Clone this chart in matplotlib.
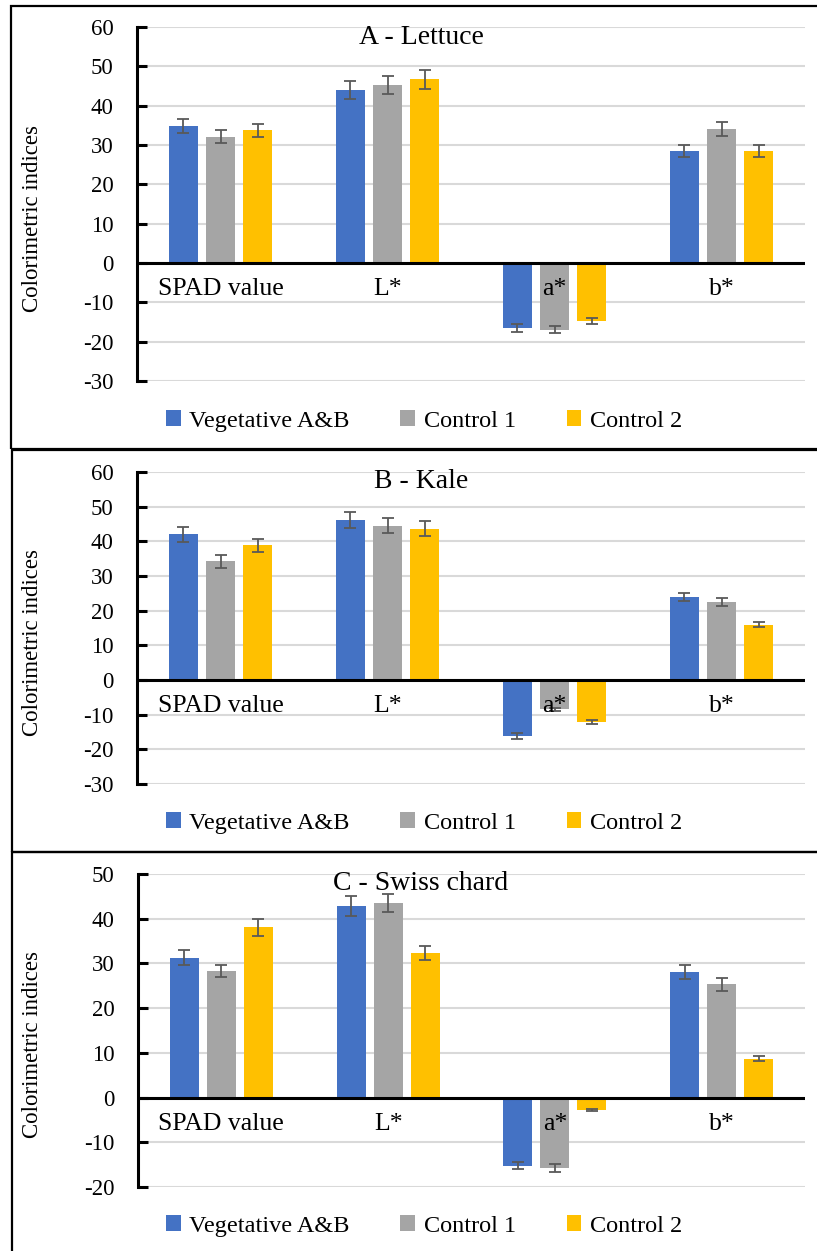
import numpy as np
import matplotlib.pyplot as plt
from matplotlib.patches import Rectangle

plt.rcParams['font.family'] = 'Liberation Serif'
plt.rcParams['axes.unicode_minus'] = False

# Categories and series shared by all three crops
categories = ['SPAD value', 'L*', 'a*', 'b*']
series = ['Vegetative A&B', 'Control 1', 'Control 2']
colors = ['#4472C4', '#A5A5A5', '#FFC000']

# A - Lettuce
lettuce_vals = [[34.8, 44.0, -16.6, 28.5],
                [32.1, 45.3, -17.0, 34.1],
                [33.7, 46.7, -14.7, 28.5]]
lettuce_err = [[1.8, 2.2, 1.0, 1.5],
               [1.6, 2.3, 0.9, 1.8],
               [1.7, 2.4, 0.7, 1.5]]

# B - Kale
kale_vals = [[42.0, 46.1, -16.2, 23.9],
             [34.2, 44.5, -8.5, 22.4],
             [38.8, 43.6, -12.1, 16.0]]
kale_err = [[2.2, 2.3, 0.9, 1.2],
            [1.8, 2.2, 0.3, 1.15],
            [1.9, 2.2, 0.7, 0.8]]

# C - Swiss chard
chard_vals = [[31.3, 42.9, -15.2, 28.1],
              [28.3, 43.5, -15.8, 25.3],
              [38.1, 32.3, -2.8, 8.7]]
chard_err = [[1.6, 2.2, 0.7, 1.5],
             [1.4, 2.1, 0.85, 1.4],
             [1.9, 1.6, 0.15, 0.6]]

W, H = 817, 1251
fig = plt.figure(figsize=(W / 100, H / 100), dpi=100)


def px_axes(x0, y0, x1, y1):
    # axes placed in pixel coordinates (top-left origin)
    return fig.add_axes([x0 / W, 1 - y1 / H, (x1 - x0) / W, (y1 - y0) / H])


panels = [
    dict(title='A - Lettuce', vals=lettuce_vals, err=lettuce_err,
         box=(137, 27, 805, 381), ylim=(-30, 60), frame=(11, 6, 449),
         title_y=37, legend_y=421),
    dict(title='B - Kale', vals=kale_vals, err=kale_err,
         box=(137, 472, 805, 784), ylim=(-30, 60), frame=(12, 450, 852),
         title_y=482, legend_y=823),
    dict(title='C - Swiss chard', vals=chard_vals, err=chard_err,
         box=(138, 874, 805, 1187), ylim=(-20, 50), frame=(12, 852, 1260),
         title_y=883, legend_y=1226),
]

x = np.arange(len(categories))
width = 0.175
step = 0.222

for p in panels:
    # panel frame
    fx, fy0, fy1 = p['frame']
    fig.patches.append(Rectangle((fx / W, 1 - fy1 / H), (W + 5 - fx) / W,
                                 (fy1 - fy0) / H, transform=fig.transFigure,
                                 fill=False, edgecolor='black', lw=1.6,
                                 zorder=0))

    ax = px_axes(*p['box'])
    handles = []
    for i, name in enumerate(series):
        pos = x + (i - 1) * step
        b = ax.bar(pos, p['vals'][i], width, color=colors[i], label=name,
                   zorder=2)
        ax.errorbar(pos, p['vals'][i], yerr=p['err'][i], fmt='none',
                    ecolor='#595959', elinewidth=1.3, capsize=4,
                    capthick=1.3, zorder=3)
        handles.append(b)

    lo, hi = p['ylim']
    ax.set_ylim(lo, hi)
    ax.set_xlim(-0.5, len(categories) - 0.5)
    ax.set_yticks(np.arange(lo, hi + 1, 10))
    ax.yaxis.grid(True, color='#D9D9D9', lw=1.5, zorder=0)
    ax.set_axisbelow(True)
    ax.set_xticks([])
    for s in ['top', 'right', 'bottom']:
        ax.spines[s].set_visible(False)
    ax.spines['left'].set_linewidth(2.2)
    ax.axhline(0, color='black', lw=2.2, zorder=4)
    ax.tick_params(axis='y', direction='in', length=7, width=2.2,
                   labelsize=16.5, pad=17)

    # category names just under the zero line
    for xi, cat in zip(x, categories):
        ax.annotate(cat, xy=(xi, 0), xytext=(0, -19),
                    textcoords='offset points', ha='center', va='center',
                    fontsize=18.5, zorder=5)

    fig.text(421 / W, 1 - p['title_y'] / H, p['title'], ha='center',
             va='center', fontsize=20)

    y0, y1 = p['box'][1], p['box'][3]
    fig.text(33 / W, 1 - (y0 + y1) / 2 / H - 14 / H,
             'Colorimetric indices', rotation=90, ha='center', va='center',
             fontsize=16.5)

    fig.legend(handles, series, loc='center',
               bbox_to_anchor=(424 / W, 1 - p['legend_y'] / H), ncol=3,
               frameon=False, fontsize=17.5, handlelength=0.6,
               handleheight=0.6, handletextpad=0.35, columnspacing=2.1)

fig.savefig('out.png', dpi=100)
